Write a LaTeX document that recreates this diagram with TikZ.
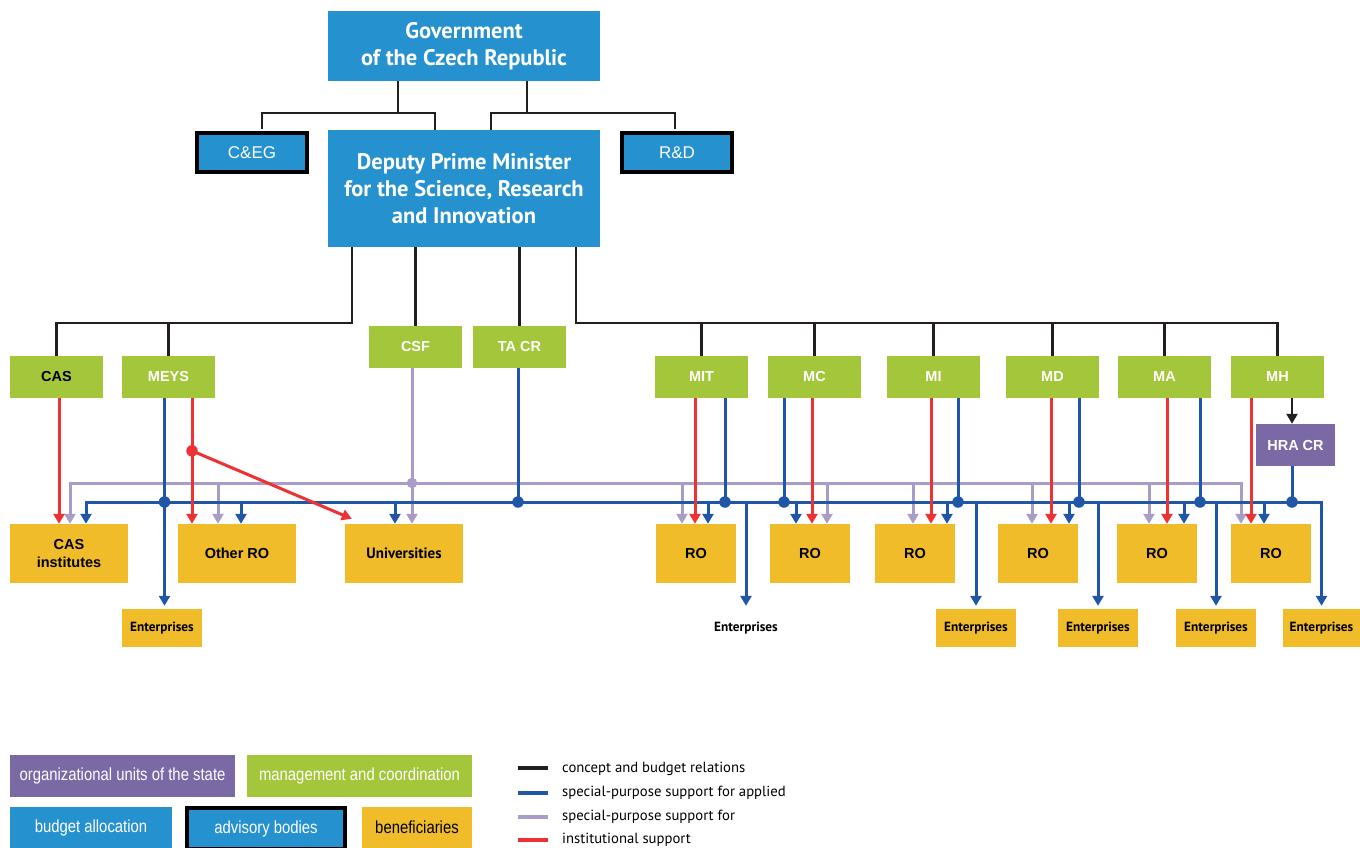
\documentclass[tikz,border=0pt]{standalone}
\usepackage{fontspec}
\setmainfont{Liberation Sans}
\newfontfamily\ptsans{PT Sans}
\newfontfamily\narrowfont[FakeStretch=0.85]{Liberation Sans}
\usetikzlibrary{arrows.meta,calc}
\definecolor{govblue}{HTML}{2591CF}
\definecolor{mgreen}{HTML}{A3C63B}
\definecolor{byellow}{HTML}{F0BC2A}
\definecolor{spurple}{HTML}{7B69A6}
\definecolor{lineblue}{HTML}{1F56A7}
\definecolor{linered}{HTML}{EE3233}
\definecolor{linelav}{HTML}{A99CC9}
\definecolor{lineblack}{HTML}{231F20}
\begin{document}
\begin{tikzpicture}[x=1pt,y=-1pt,
  box/.style={rectangle, inner sep=0pt, align=center, anchor=center},
  bigbox/.style={box, fill=govblue, text=white, minimum width=272pt, font=\ptsans\bfseries\fontsize{22.5}{27}\selectfont},
  advbox/.style={box, fill=govblue, draw=black, line width=4pt, text=white, minimum width=110pt, minimum height=39pt, font=\fontsize{17}{19}\selectfont},
  gbox/.style={box, fill=mgreen, text=white, minimum width=93pt, minimum height=42pt, font=\bfseries\fontsize{14.5}{16}\selectfont},
  pbox/.style={box, fill=spurple, text=white, minimum width=79pt, minimum height=42pt, font=\bfseries\fontsize{14.5}{16}\selectfont},
  ybox/.style={box, fill=byellow, text=black, minimum width=80pt, minimum height=59pt, font=\bfseries\fontsize{14.5}{17.5}\selectfont},
  ebox/.style={box, fill=byellow, text=black, minimum width=80pt, minimum height=38pt, font=\ptsans\bfseries\fontsize{13.3}{15}\selectfont},
  etext/.style={box, text=black, minimum width=80pt, minimum height=38pt, font=\ptsans\bfseries\fontsize{13.3}{15}\selectfont},
  legbox/.style={box, text=white, minimum height=42pt, font=\narrowfont\fontsize{17.5}{20}\selectfont},
  legtext/.style={anchor=west, inner sep=0pt, font=\ptsans\fontsize{14.7}{16}\selectfont},
  blk/.style={draw=lineblack, line width=2.2pt},
  blu/.style={draw=lineblue, line width=3pt},
  redl/.style={draw=linered, line width=3pt},
  lav/.style={draw=linelav, line width=3pt},
  arrowend/.style={-{Triangle[length=10pt,width=11pt]}},
  botharrows/.style={{Triangle[length=10pt,width=11pt]}-{Triangle[length=10pt,width=11pt]}},
  jdot/.style={circle, inner sep=0pt, minimum size=11.5pt}
]
\useasboundingbox (0,0) rectangle (1360,847);

% top boxes
\node[bigbox, minimum height=70pt] (gov) at (464,46) {Government\\of the Czech Republic};
\node[bigbox, minimum height=117pt] (dpm) at (464,188.5) {Deputy Prime Minister\\for the Science, Research\\and Innovation};
\node[advbox] (ceg) at (252,152.5) {C\&EG};
\node[advbox] (rnd) at (677,152.5) {R\&D};

% management
\node[gbox, text=black] (cas) at (56.5,377) {CAS};
\node[gbox] (meys) at (168.5,377) {MEYS};
\node[gbox] (csf) at (415.5,347) {CSF};
\node[gbox] (tacr) at (519.5,347) {TA CR};
\node[gbox] (mit) at (701.5,377) {MIT};
\node[gbox] (mc) at (814.5,377) {MC};
\node[gbox] (mi) at (933.5,377) {MI};
\node[gbox] (md) at (1052.5,377) {MD};
\node[gbox] (ma) at (1164.5,377) {MA};
\node[gbox] (mh) at (1277.5,377) {MH};
\node[pbox] (hra) at (1295.5,445) {HRA CR};

% beneficiaries
\node[ybox, minimum width=118pt] (casi) at (69,553.5) {CAS\\institutes};
\node[ybox, minimum width=118pt] (oro) at (237,553.5) {Other RO};
\node[ybox, minimum width=118pt, font=\ptsans\bfseries\fontsize{15}{17}\selectfont] (univ) at (404,553.5) {Universities};
\node[ybox] (ro1) at (696,553.5) {RO};
\node[ybox] (ro2) at (810,553.5) {RO};
\node[ybox] (ro3) at (915,553.5) {RO};
\node[ybox] (ro4) at (1038,553.5) {RO};
\node[ybox] (ro5) at (1157,553.5) {RO};
\node[ybox] (ro6) at (1271,553.5) {RO};

\node[ebox] (ent1) at (162,628) {Enterprises};
\node[etext] (entT) at (746,628) {Enterprises};
\node[ebox] (ent3) at (976,628) {Enterprises};
\node[ebox] (ent4) at (1098,628) {Enterprises};
\node[ebox] (ent5) at (1216,628) {Enterprises};
\node[ebox, minimum width=77pt] (ent6) at (1321.5,628) {Enterprises};

% helper levels
\coordinate (h1) at (0,113);
\coordinate (h2) at (0,323);
\coordinate (lvl) at (0,483);
\coordinate (bll) at (0,502);

% black concept lines
\coordinate (govL) at ($(gov.south)+(-66,0)$);
\coordinate (govR) at ($(gov.south)+(63,0)$);
\coordinate (dpmL) at ($(dpm.north)+(-29,0)$);
\coordinate (dpmR) at ($(dpm.north)+(27,0)$);
\coordinate (cegT) at ($(ceg.north)+(10,-2)$);
\coordinate (rndT) at ($(rnd.north)+(-2,-2)$);
\draw[blk] (govL) -- (govL |- h1);
\draw[blk] (cegT) |- (h1 -| dpmL) -- (dpmL);
\draw[blk] (govR) -- (govR |- h1);
\draw[blk] (dpmR) |- (h1 -| rndT) -- (rndT);
\coordinate (dpm1) at ($(dpm.south)+(-112,0)$);
\coordinate (dpm4) at ($(dpm.south)+(112,0)$);
\draw[blk] (dpm1) |- (h2 -| cas.north) -- (cas.north);
\draw[blk] (meys.north) -- (meys.north |- h2);
\draw[blk] (csf.north |- dpm.south) -- (csf.north);
\draw[blk] (tacr.north |- dpm.south) -- (tacr.north);
\draw[blk] (dpm4) |- (h2 -| mh.north) -- (mh.north);
\foreach \n in {mit,mc,mi,md,ma}{
  \draw[blk] (\n.north) -- (\n.north |- h2);
}
\coordinate (mhB) at ($(mh.south)+(14.5,0)$);
\draw[blk, arrowend] (mhB) -- (mhB |- hra.north);

% lavender: special-purpose support for basic research
\coordinate (lavR) at ($(ro6.north)+(-30,0)$);
\draw[lav, botharrows] ($(casi.north)+(1,0)$) |- (lvl -| lavR) -- (lavR);
\foreach \n/\d in {oro/-19, ro1/-14, ro2/17, ro3/-2, ro4/-6, ro5/-8}{
  \coordinate (t) at ($(\n.north)+(\d,0)$);
  \draw[lav, arrowend] (t |- lvl) -- (t);
}
\coordinate (csfB) at ($(csf.south)+(-3.5,0)$);
\coordinate (univL) at ($(univ.north)+(8,0)$);
\draw[lav, arrowend] (csfB) -- (univL);
\node[jdot, fill=linelav, minimum size=10.5pt] (dcsf) at (csfB |- lvl) {};

% blue: special-purpose support for applied research
\draw[blu, botharrows, shorten >=3pt] ($(casi.north)+(17,0)$) |- (bll -| ent6.north) -- (ent6.north);
\foreach \n/\d in {oro/4, univ/-9, ro1/12, ro2/-14, ro3/32, ro4/31, ro5/27, ro6/-7}{
  \coordinate (t) at ($(\n.north)+(\d,0)$);
  \draw[blu, arrowend] (t |- bll) -- (t);
}
\foreach \n in {entT, ent3, ent4, ent5}{
  \draw[blu, arrowend, shorten >=3pt] (\n.north |- bll) -- (\n.north);
}
\coordinate (meysB) at ($(meys.south)+(-4,0)$);
\draw[blu, arrowend, shorten >=3pt] (meysB) -- (meysB |- ent1.north);
\node[jdot, fill=lineblue] (dmeys) at (meysB |- bll) {};
\foreach \n/\d in {tacr/-1.5, mit/23.5, mc/-30.5, mi/24.5, md/26.5, ma/35.5, hra/-3.5}{
  \coordinate (t) at ($(\n.south)+(\d,0)$);
  \draw[blu] (t) -- (t |- bll);
  \node[jdot, fill=lineblue] at (t |- bll) {};
}

% red: institutional support
\foreach \n/\b/\d in {cas/casi/-10, meys/oro/-45, mit/ro1/-1, mc/ro2/2, mi/ro3/16, md/ro4/13, ma/ro5/10, mh/ro6/-20}{
  \coordinate (t) at ($(\b.north)+(\d,0)$);
  \draw[redl, arrowend] (t |- meys.south) -- (t);
}
\coordinate (rsplit) at ($(oro.north)+(-45,-73)$);
\node[jdot, fill=linered] (dred) at (rsplit) {};
\draw[redl, arrowend] (dred.center) -- ($(univ.north west)+(7,-5)$);

% legend
\node[legbox, fill=spurple, minimum width=225pt] (lgp) at (122.5,776) {organizational units of the state};
\node[legbox, fill=mgreen, minimum width=225pt] (lgg) at (359.5,776) {management and coordination};
\node[legbox, fill=govblue, minimum width=162pt] (lgb) at (91,827.5) {budget allocation};
\node[legbox, fill=govblue, draw=black, line width=4pt, minimum width=158pt, minimum height=41pt] (lga) at (266,828.5) {advisory bodies};
\node[legbox, fill=byellow, text=black, minimum width=110pt] (lgy) at (417,827.5) {beneficiaries};

\draw[lineblack, line width=3.5pt] (518,768) -- (548,768);
\draw[lineblue, line width=3.5pt] (518,793) -- (548,793);
\draw[linelav, line width=3.5pt] (518,817) -- (548,817);
\draw[linered, line width=3.5pt] (518,840) -- (548,840);
\node[legtext] (lt1) at (562,769) {concept and budget relations};
\node[legtext] (lt2) at (562,793) {special-purpose support for applied};
\node[legtext] (lt3) at (562,817) {special-purpose support for};
\node[legtext] (lt4) at (562,840) {institutional support};
\end{tikzpicture}
\end{document}
